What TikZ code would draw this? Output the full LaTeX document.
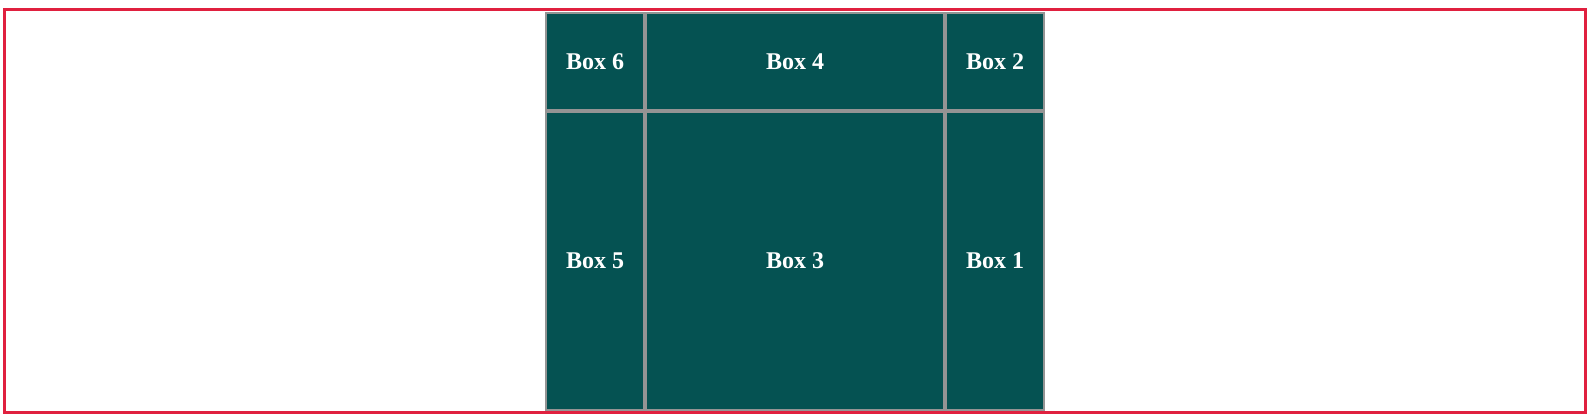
\documentclass[tikz,border=0pt]{standalone}
\usepackage{fontspec}
\setmainfont{Liberation Serif}
\usepackage{xcolor}
\usepackage{tikz}
\usetikzlibrary{positioning}
\definecolor{gridFill}{HTML}{055252}
\definecolor{gridLine}{HTML}{949494}
\definecolor{frameRed}{HTML}{E0203F}

\begin{document}
\begin{tikzpicture}[
  x=0.5pt, y=-0.5pt,
  cell/.style={draw=gridLine, fill=gridFill, line width=1pt, inner sep=0pt,
               text=white, font=\fontsize{12pt}{14pt}\selectfont\bfseries},
  narrow/.style={minimum width=49pt},
  wide/.style={minimum width=149pt},
  short/.style={minimum height=48.5pt},
  tall/.style={minimum height=149pt},
  frame/.style={draw=frameRed, line width=1.5pt, minimum width=790.5pt,
                minimum height=201.5pt, inner sep=0pt}
]
  \useasboundingbox (0,0) rectangle (1591,418);
  \node[frame] (page) at (795,211) {};

  % top row
  \node[cell, narrow, short, anchor=north west] (box6) at (545,12) {Box 6};
  \node[cell, wide, short, right=0pt of box6] (box4) {Box 4};
  \node[cell, narrow, short, right=0pt of box4] (box2) {Box 2};
  % bottom row
  \node[cell, narrow, tall, below=0pt of box6] (box5) {Box 5};
  \node[cell, wide, tall, below=0pt of box4] (box3) {Box 3};
  \node[cell, narrow, tall, below=0pt of box2] (box1) {Box 1};
\end{tikzpicture}
\end{document}
